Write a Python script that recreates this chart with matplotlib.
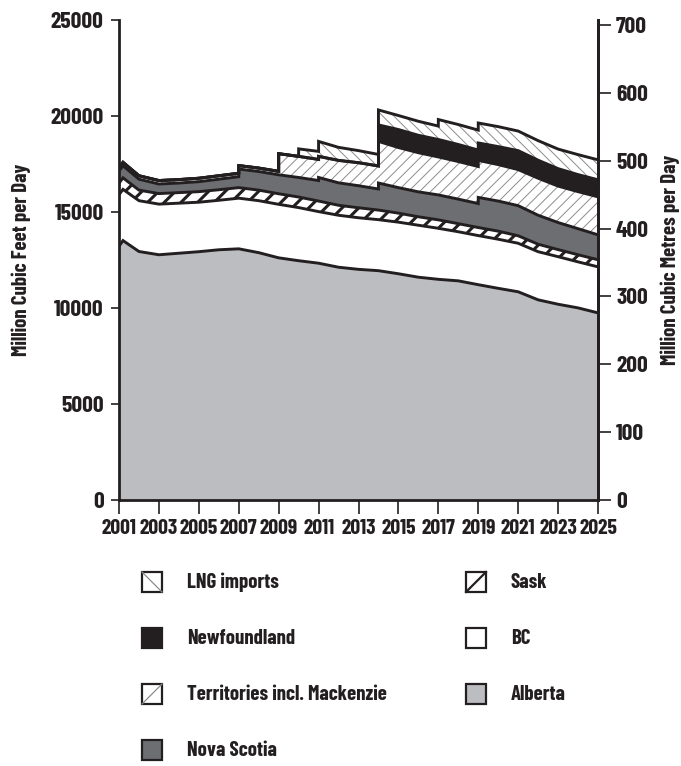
import matplotlib
matplotlib.use('Agg')
import matplotlib.pyplot as plt
from matplotlib.patches import Rectangle
from matplotlib.lines import Line2D
import numpy as np

plt.rcParams['font.family'] = ['Barlow Condensed', 'Liberation Sans Narrow', 'DejaVu Sans']
plt.rcParams['font.weight'] = 'bold'

# supply by source, MMcf/d; repeated years mark step changes
years = [2001, 2001.2, 2002, 2003, 2004, 2005, 2006, 2007, 2007, 2008, 2009, 2009,
         2010, 2010, 2011, 2011, 2012, 2013, 2014, 2014, 2015, 2016, 2017, 2017,
         2018, 2019, 2019, 2020, 2021, 2022, 2023, 2024, 2025]
alberta = [13200, 13500, 12930, 12760, 12840, 12920, 13020, 13070, 13070, 12870, 12600, 12600,
           12450, 12450, 12320, 12320, 12110, 12000, 11930, 11930, 11770, 11590, 11480, 11480,
           11400, 11200, 11200, 11010, 10830, 10410, 10180, 9990, 9730]
bc = [2690, 2670, 2650, 2640, 2610, 2580, 2580, 2640, 2640, 2710, 2790, 2790,
      2770, 2770, 2690, 2690, 2710, 2690, 2660, 2660, 2690, 2710, 2660, 2660,
      2560, 2560, 2560, 2560, 2530, 2510, 2480, 2400, 2400]
sask = [600, 600, 550, 550, 550, 550, 550, 550, 550, 550, 550, 550,
        550, 550, 550, 550, 520, 520, 500, 500, 470, 440, 440, 440,
        420, 420, 420, 420, 390, 390, 370, 370, 370]
nova_scotia = [630, 630, 570, 500, 500, 520, 550, 570, 970, 970, 990, 990,
               1020, 1020, 1070, 1230, 1170, 1150, 1100, 1410, 1330, 1300, 1300, 1300,
               1280, 1250, 1570, 1570, 1570, 1510, 1410, 1360, 1300]
territories = [180, 180, 180, 180, 180, 180, 180, 180, 180, 180, 180, 1100,
               1100, 1100, 1100, 1100, 1170, 1200, 1200, 2170, 2090, 2040, 1980, 1980,
               1960, 1930, 1930, 1900, 1880, 1930, 1900, 1930, 1980]
newfoundland = [0, 0, 0, 0, 0, 0, 0, 0, 0, 0, 0, 0,
                0, 0, 0, 0, 0, 0, 0, 860, 940, 910, 910, 910,
                890, 860, 910, 940, 990, 940, 910, 890, 890]
lng = [0, 0, 0, 0, 0, 0, 0, 0, 0, 0, 0, 0,
       0, 390, 420, 780, 680, 630, 600, 780, 730, 730, 700, 1040,
       1040, 1040, 1040, 1040, 1020, 1020, 1020, 1040, 1040]

INK = '#231f20'
HATCH_GREY = '#8c8c8c'
# name, values, face, hatch colour, hatch, legend diagonal, hatch width
layers = [
    ('Alberta', alberta, '#bcbdc1', INK, None, None, 1.0),
    ('BC', bc, 'white', INK, None, None, 1.0),
    ('Sask', sask, 'white', INK, '//', '/', 2.2),
    ('Nova Scotia', nova_scotia, '#6d6e71', INK, None, None, 1.0),
    ('Territories incl. Mackenzie', territories, 'white', HATCH_GREY, '///', '/', 0.7),
    ('Newfoundland', newfoundland, INK, INK, None, None, 1.0),
    ('LNG imports', lng, 'white', HATCH_GREY, '\\\\\\', '\\', 0.7),
]

fig = plt.figure(figsize=(6.81, 7.66), dpi=100)
ax = fig.add_axes([119/681, 1 - 499.5/766, 479/681, 479.5/766])

x = np.array(years)
base = np.zeros(len(years))
tops = []
for name, vals, fc, hc, h, _, lw_h in layers:
    top = base + np.array(vals)
    with plt.rc_context({'hatch.linewidth': lw_h}):
        coll = ax.fill_between(x, base, top, facecolor=fc, edgecolor=hc,
                               hatch=h, linewidth=0, zorder=2)
        try:
            coll.set_hatch_linewidth(lw_h)
        except AttributeError:
            pass
    tops.append(top)
    base = top

for top in tops:
    ax.plot(x, top, color=INK, lw=2.1, zorder=3, solid_joinstyle='miter')

ax.set_xlim(2001, 2025)
ax.set_ylim(0, 25000)
ax.set_xticks(range(2001, 2026, 2))
ax.set_yticks(range(0, 25001, 5000))
ax.spines['top'].set_visible(False)
for s in ['left', 'right', 'bottom']:
    ax.spines[s].set_linewidth(2.0)
    ax.spines[s].set_color(INK)
ax.tick_params(axis='x', direction='out', length=10, width=1.2, color=INK,
               labelsize=15.5, pad=4, labelcolor=INK)
ax.tick_params(axis='y', direction='out', length=6, width=1.2, color=INK,
               labelsize=17, pad=5, labelcolor=INK)
ax.set_ylabel('Million Cubic Feet per Day', fontsize=15, fontweight='bold',
              labelpad=14, color=INK)

# metric scale on the right
ax2 = ax.twinx()
ax2.set_ylim(0, 25000 * 0.0283168)
ax2.set_yticks(range(0, 701, 100))
for s in ['top', 'left', 'bottom']:
    ax2.spines[s].set_visible(False)
ax2.spines['right'].set_linewidth(2.0)
ax2.spines['right'].set_color(INK)
ax2.tick_params(axis='y', direction='out', length=9, width=1.2, color=INK,
                labelsize=17, pad=4, labelcolor=INK)
ax2.set_ylabel('Million Cubic Metres per Day', fontsize=15, fontweight='bold',
               labelpad=8, color=INK)

# legend, two columns filled top to bottom
legend_order = [6, 5, 4, 3, 2, 1, 0]
for i, idx in enumerate(legend_order):
    name, vals, fc, hc, h, diag, lw_h = layers[idx]
    col, row = divmod(i, 4)
    px = 142 if col == 0 else 466
    py = 582 + row * 56
    x0, y0 = px / 681, 1 - (py + 10) / 766
    w, hgt = 20 / 681, 20 / 766
    fig.add_artist(Rectangle((x0, y0), w, hgt, transform=fig.transFigure,
                             facecolor=fc, edgecolor='none'))
    if diag == '/':
        fig.add_artist(Line2D([x0, x0 + w], [y0, y0 + hgt], transform=fig.transFigure,
                              color=hc, lw=1.6 if name == 'Sask' else 0.9))
    elif diag == '\\':
        fig.add_artist(Line2D([x0, x0 + w], [y0 + hgt, y0], transform=fig.transFigure,
                              color=hc, lw=0.9))
    fig.add_artist(Rectangle((x0, y0), w, hgt, transform=fig.transFigure,
                             facecolor='none', edgecolor=INK, linewidth=1.6))
    fig.text((px + 45) / 681, 1 - py / 766, name, fontsize=15, fontweight='bold',
             va='center', ha='left', color=INK)

fig.savefig('out.png', dpi=100)
